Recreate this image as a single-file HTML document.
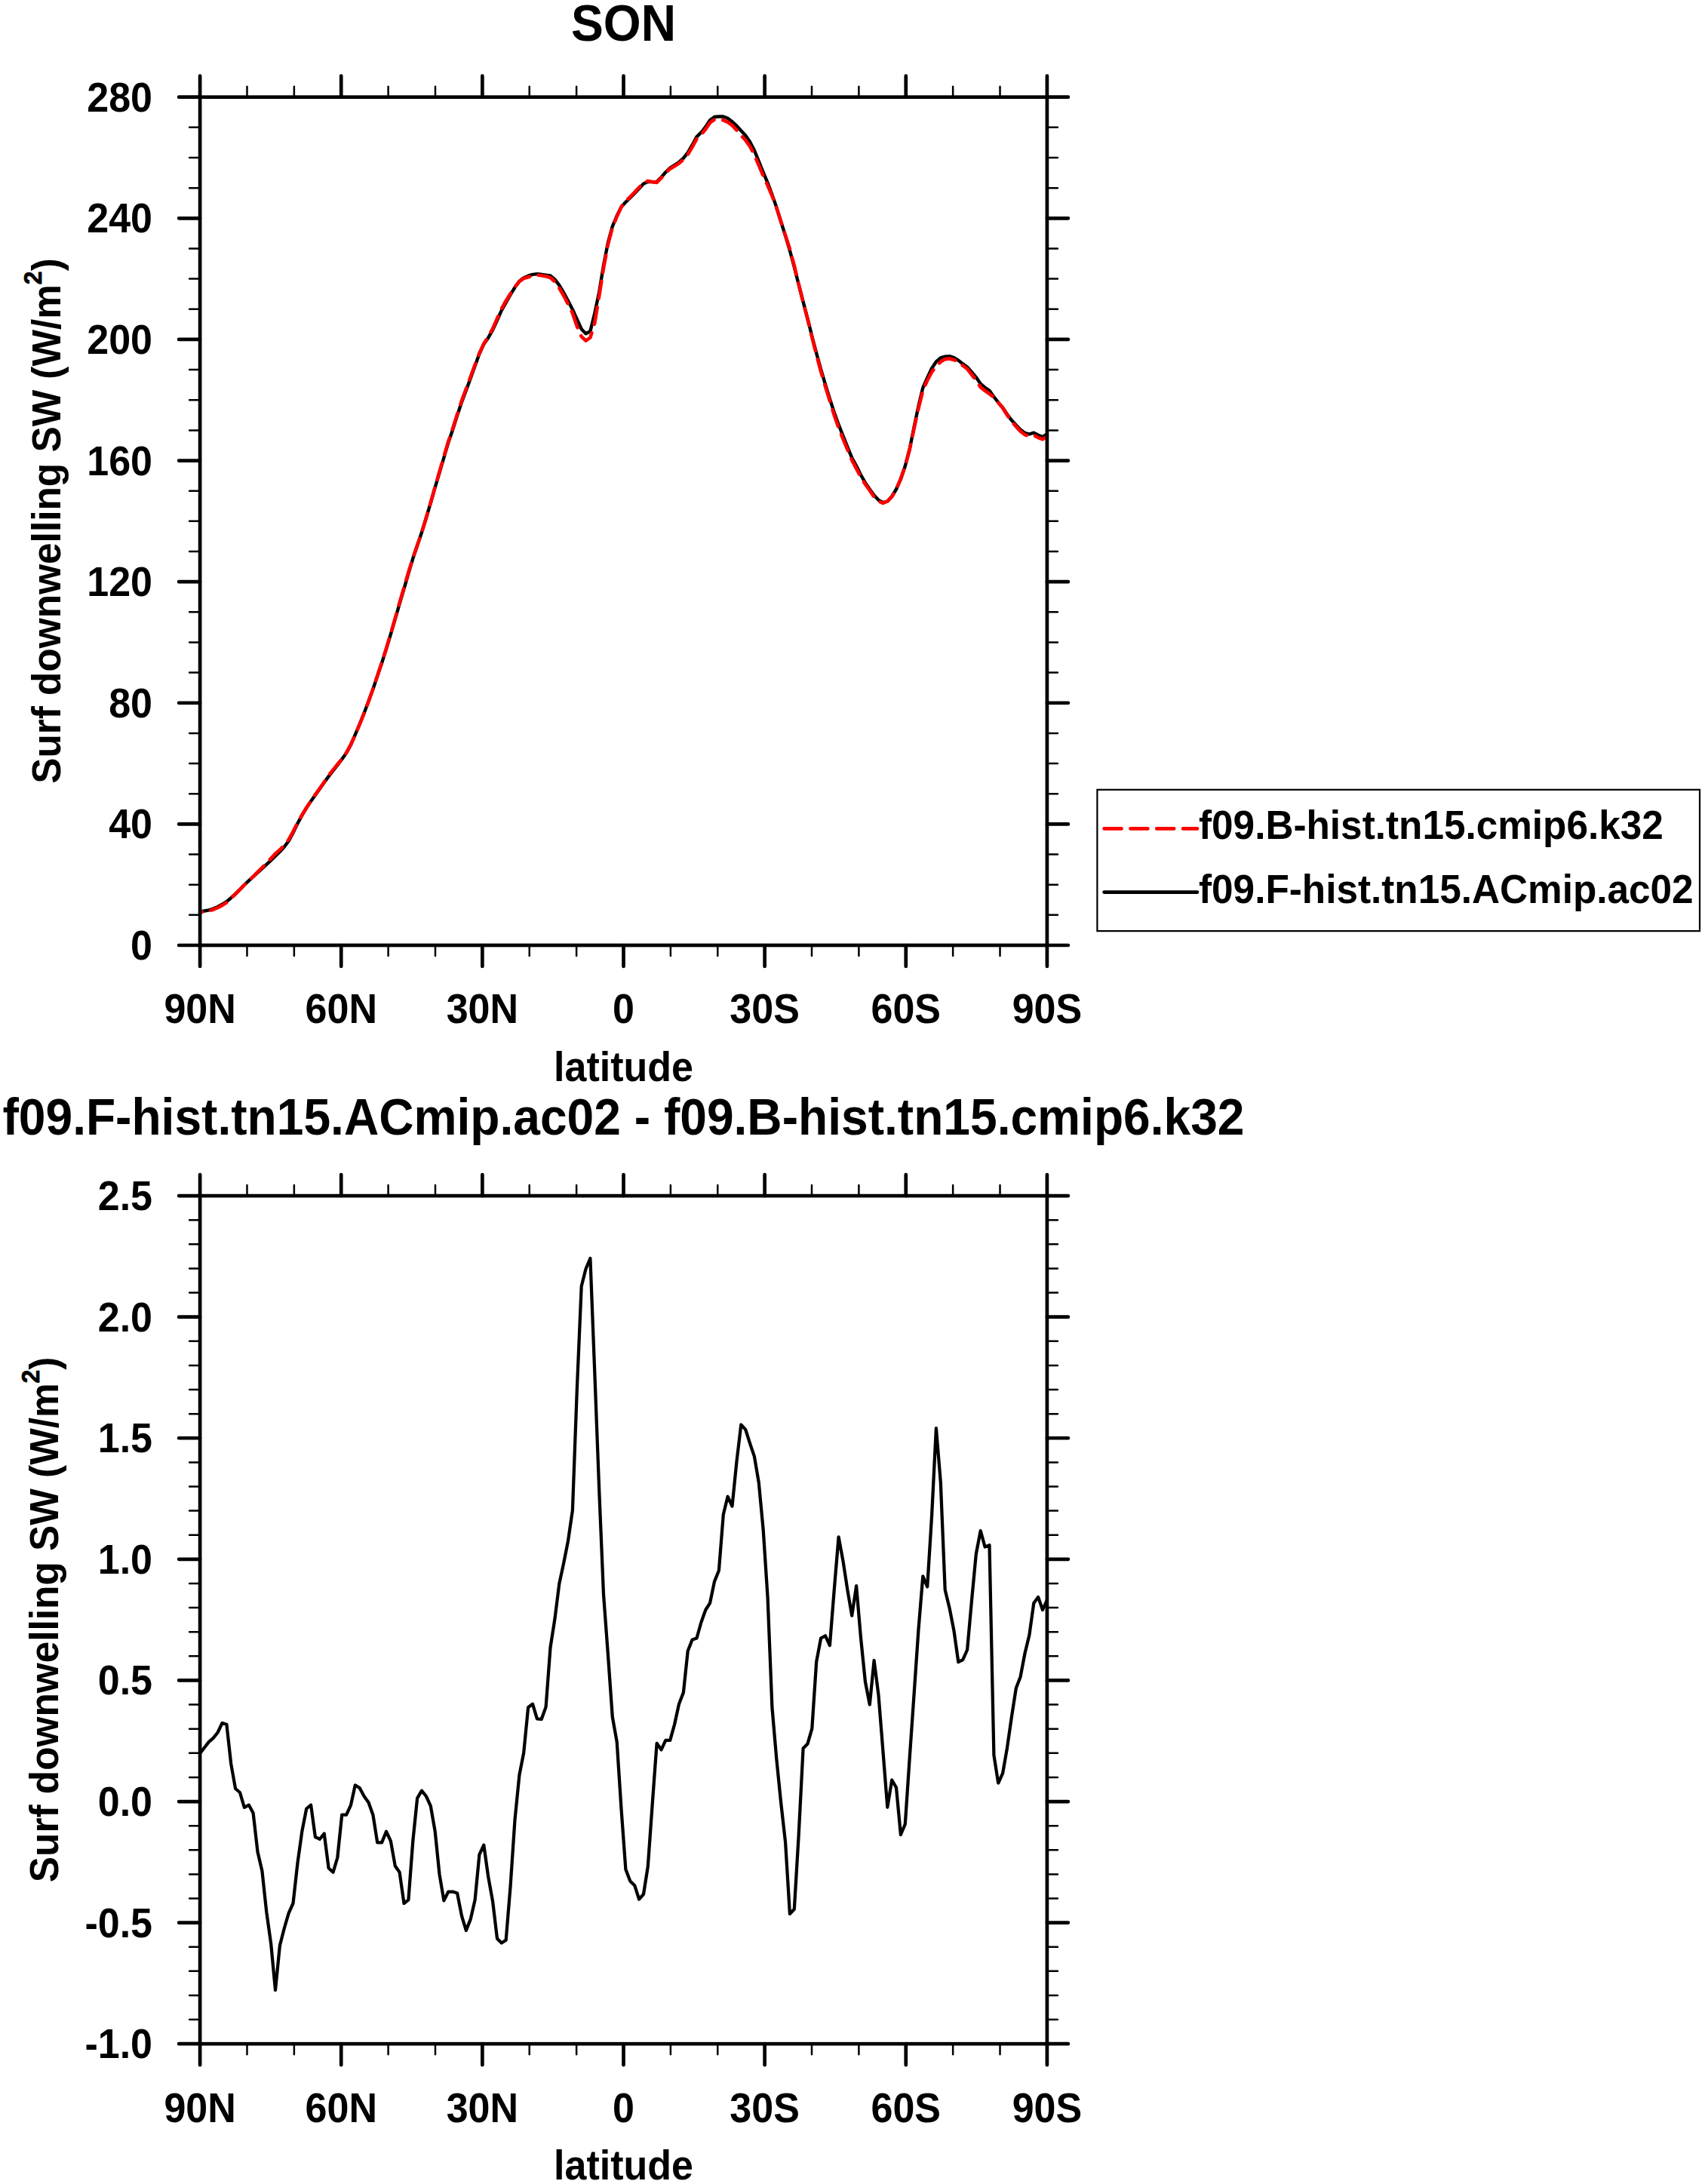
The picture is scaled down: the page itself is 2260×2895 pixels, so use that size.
<!DOCTYPE html>
<html><head><meta charset="utf-8"><title>SON</title>
<style>html,body{margin:0;padding:0;background:#fff;overflow:hidden;}svg{display:block;}
text{font-family:"Liberation Sans",Arial,Helvetica,sans-serif;font-weight:bold;fill:#000;}</style></head>
<body><svg width="2260" height="2895" viewBox="0 0 2260 2895">
<rect width="2260" height="2895" fill="#fff"/>
<path d="M265.1 1208.6 L271.0 1207.5 L276.9 1206.4 L282.7 1204.6 L288.6 1202.0 L294.5 1198.8 L300.4 1195.1 L306.2 1190.2 L312.1 1184.9 L318.0 1179.0 L323.9 1173.0 L329.8 1167.4 L335.6 1162.1 L341.5 1156.7 L347.4 1151.3 L353.3 1145.8 L359.2 1140.3 L365.0 1134.7 L370.9 1129.0 L376.8 1122.5 L382.7 1114.7 L388.5 1104.0 L394.4 1091.6 L400.3 1080.8 L406.2 1070.8 L412.1 1062.0 L417.9 1054.0 L423.8 1045.8 L429.7 1037.3 L435.6 1029.1 L441.5 1021.6 L447.3 1014.2 L453.2 1006.4 L459.1 998.0 L465.0 987.2 L470.8 973.8 L476.7 960.0 L482.6 945.3 L488.5 929.8 L494.4 913.4 L500.2 896.4 L506.1 878.8 L512.0 860.1 L517.9 840.6 L523.8 820.5 L529.6 800.3 L535.5 780.3 L541.4 760.2 L547.3 740.4 L553.1 723.0 L559.0 705.7 L564.9 686.5 L570.8 666.6 L576.7 646.0 L582.5 626.6 L588.4 606.5 L594.3 586.6 L600.2 569.2 L606.1 550.6 L611.9 533.2 L617.8 517.5 L623.7 501.5 L629.6 485.1 L635.4 469.1 L641.3 456.2 L647.2 447.7 L653.1 437.3 L659.0 424.5 L664.8 411.4 L670.7 401.0 L676.6 390.6 L682.5 380.8 L688.4 372.7 L694.2 368.2 L700.1 365.7 L706.0 363.9 L711.9 363.1 L717.7 363.8 L723.6 364.7 L729.5 365.5 L735.4 370.4 L741.3 378.2 L747.1 387.9 L753.0 398.8 L758.9 410.2 L764.8 423.2 L770.7 436.2 L776.5 442.2 L782.4 439.1 L788.3 415.3 L794.2 387.1 L800.0 351.8 L805.9 321.6 L811.8 300.2 L817.7 286.0 L823.6 274.2 L829.4 267.8 L835.3 262.2 L841.2 256.3 L847.1 250.1 L853.0 243.6 L858.8 241.1 L864.7 241.1 L870.6 240.9 L876.5 235.0 L882.3 228.3 L888.2 222.7 L894.1 218.9 L900.0 215.0 L905.9 209.7 L911.7 202.3 L917.6 192.2 L923.5 181.4 L929.4 175.5 L935.3 168.1 L941.1 159.3 L947.0 155.0 L952.9 154.5 L958.8 154.5 L964.6 156.8 L970.5 161.3 L976.4 166.7 L982.3 173.3 L988.2 179.6 L994.0 188.0 L999.9 199.3 L1005.8 213.9 L1011.7 228.6 L1017.6 242.5 L1023.4 257.9 L1029.3 274.9 L1035.2 294.0 L1041.1 312.7 L1046.9 332.0 L1052.8 353.9 L1058.7 377.3 L1064.6 400.1 L1070.5 422.2 L1076.3 445.8 L1082.2 468.3 L1088.1 489.5 L1094.0 509.7 L1099.9 528.7 L1105.7 546.7 L1111.6 562.9 L1117.5 577.9 L1123.4 592.6 L1129.2 606.8 L1135.1 617.5 L1141.0 629.5 L1146.9 639.9 L1152.8 648.4 L1158.6 656.5 L1164.5 662.8 L1170.4 666.1 L1176.3 664.5 L1182.2 658.0 L1188.0 648.5 L1193.9 635.2 L1199.8 617.7 L1205.7 595.4 L1211.5 566.7 L1217.4 538.6 L1223.3 514.1 L1229.2 500.6 L1235.1 488.2 L1240.9 479.5 L1246.8 474.3 L1252.7 472.6 L1258.6 472.2 L1264.5 474.1 L1270.3 477.7 L1276.2 482.2 L1282.1 486.5 L1288.0 493.1 L1293.8 500.1 L1299.7 508.7 L1305.6 513.7 L1311.5 517.8 L1317.4 526.0 L1323.2 533.3 L1329.1 540.3 L1335.0 549.3 L1340.9 557.1 L1346.8 563.5 L1352.6 569.5 L1358.5 573.9 L1364.4 575.5 L1370.3 573.6 L1376.1 576.7 L1382.0 579.1 L1387.9 575.5" fill="none" stroke="#000" stroke-width="4.4" stroke-linejoin="round" stroke-linecap="round"/>
<path d="M265.1 1209.4 L271.0 1208.4 L276.9 1207.4 L282.7 1205.7 L288.6 1203.2 L294.5 1200.1 L300.4 1196.4 L306.2 1190.8 L312.1 1185.1 L318.0 1179.1 L323.9 1172.9 L329.8 1167.4 L335.6 1161.9 L341.5 1155.8 L347.4 1150.1 L353.3 1144.0 L359.2 1137.9 L365.0 1131.6 L370.9 1126.6 L376.8 1120.4 L382.7 1112.9 L388.5 1102.3 L394.4 1090.6 L400.3 1080.3 L406.2 1070.7 L412.1 1061.9 L417.9 1053.4 L423.8 1045.1 L429.7 1036.7 L435.6 1028.0 L441.5 1020.4 L447.3 1013.3 L453.2 1006.2 L459.1 997.8 L465.0 987.2 L470.8 974.1 L476.7 960.2 L482.6 945.4 L488.5 929.8 L494.4 913.1 L500.2 895.7 L506.1 878.1 L512.0 859.6 L517.9 839.9 L523.8 819.5 L529.6 799.1 L535.5 778.7 L541.4 758.6 L547.3 739.7 L553.1 723.1 L559.0 705.9 L564.9 686.6 L570.8 666.5 L576.7 645.5 L582.5 625.4 L588.4 604.9 L594.3 585.1 L600.2 567.7 L606.1 549.0 L611.9 531.3 L617.8 515.3 L623.7 499.5 L629.6 483.5 L635.4 468.2 L641.3 455.5 L647.2 446.4 L653.1 435.7 L659.0 422.2 L664.8 409.1 L670.7 398.7 L676.6 389.2 L682.5 380.5 L688.4 373.1 L694.2 369.0 L700.1 367.3 L706.0 365.5 L711.9 364.5 L717.7 365.2 L723.6 366.3 L729.5 368.0 L735.4 373.4 L741.3 381.8 L747.1 391.8 L753.0 403.2 L758.9 415.0 L764.8 432.5 L770.7 446.1 L776.5 451.7 L782.4 447.5 L788.3 428.0 L794.2 392.3 L800.0 355.3 L805.9 324.0 L811.8 301.7 L817.7 287.0 L823.6 274.1 L829.4 266.6 L835.3 260.9 L841.2 254.9 L847.1 248.5 L853.0 242.0 L858.8 240.0 L864.7 241.1 L870.6 241.9 L876.5 235.9 L882.3 229.3 L888.2 223.7 L894.1 220.2 L900.0 216.6 L905.9 211.5 L911.7 204.8 L917.6 194.9 L923.5 184.1 L929.4 178.5 L935.3 171.3 L941.1 162.6 L947.0 158.6 L952.9 158.3 L958.8 159.3 L964.6 161.8 L970.5 166.2 L976.4 172.4 L982.3 179.5 L988.2 185.8 L994.0 194.0 L999.9 205.0 L1005.8 219.2 L1011.7 233.1 L1017.6 245.9 L1023.4 259.5 L1029.3 275.6 L1035.2 294.0 L1041.1 312.1 L1046.9 330.1 L1052.8 352.1 L1058.7 376.7 L1064.6 401.0 L1070.5 423.1 L1076.3 447.0 L1082.2 470.6 L1088.1 492.3 L1094.0 512.4 L1099.9 531.3 L1105.7 550.2 L1111.6 567.2 L1117.5 581.9 L1123.4 596.1 L1129.2 609.9 L1135.1 621.1 L1141.0 632.2 L1146.9 641.9 L1152.8 650.0 L1158.6 658.8 L1164.5 664.5 L1170.4 666.9 L1176.3 664.4 L1182.2 658.4 L1188.0 648.7 L1193.9 634.7 L1199.8 617.4 L1205.7 596.1 L1211.5 568.5 L1217.4 541.4 L1223.3 517.9 L1229.2 504.2 L1235.1 493.0 L1240.9 485.7 L1246.8 479.6 L1252.7 476.1 L1258.6 475.4 L1264.5 476.9 L1270.3 480.0 L1276.2 484.5 L1282.1 489.0 L1288.0 496.5 L1293.8 504.2 L1299.7 513.2 L1305.6 517.9 L1311.5 522.0 L1317.4 526.8 L1323.2 533.6 L1329.1 540.7 L1335.0 550.2 L1340.9 558.5 L1346.8 565.4 L1352.6 571.6 L1358.5 576.3 L1364.4 578.3 L1370.3 576.9 L1376.1 580.1 L1382.0 582.3 L1387.9 578.8" fill="none" stroke="#f00" stroke-width="4.6" stroke-linejoin="round" stroke-linecap="round" stroke-dasharray="23 11.8" stroke-dashoffset="20.2"/>
<path d="M265.1 2324.2 L271.0 2316.5 L276.9 2308.9 L282.7 2303.8 L288.6 2296.5 L294.5 2284.0 L300.4 2285.8 L306.2 2338.0 L312.1 2371.0 L318.0 2376.0 L323.9 2395.8 L329.8 2392.6 L335.6 2403.2 L341.5 2454.7 L347.4 2480.0 L353.3 2534.7 L359.2 2576.8 L365.0 2638.0 L370.9 2579.0 L376.8 2556.0 L382.7 2535.8 L388.5 2523.0 L394.4 2470.0 L400.3 2427.7 L406.2 2397.5 L412.1 2392.5 L417.9 2435.0 L423.8 2437.8 L429.7 2430.5 L435.6 2476.3 L441.5 2481.8 L447.3 2462.5 L453.2 2405.7 L459.1 2405.7 L465.0 2392.9 L470.8 2366.3 L476.7 2370.0 L482.6 2381.0 L488.5 2389.2 L494.4 2405.7 L500.2 2442.4 L506.1 2442.4 L512.0 2427.7 L517.9 2440.5 L523.8 2473.5 L529.6 2481.8 L535.5 2523.0 L541.4 2518.4 L547.3 2440.5 L553.1 2383.7 L559.0 2373.7 L564.9 2381.0 L570.8 2393.8 L576.7 2427.7 L582.5 2484.5 L588.4 2519.3 L594.3 2507.5 L600.2 2507.5 L606.1 2509.6 L611.9 2539.2 L617.8 2558.9 L623.7 2544.1 L629.6 2518.5 L635.4 2458.4 L641.3 2445.6 L647.2 2487.9 L653.1 2520.4 L659.0 2569.7 L664.8 2575.6 L670.7 2571.7 L676.6 2499.8 L682.5 2412.1 L688.4 2353.0 L694.2 2323.4 L700.1 2263.3 L706.0 2258.7 L711.9 2278.3 L717.7 2279.0 L723.6 2262.6 L729.5 2183.8 L735.4 2146.2 L741.3 2099.3 L747.1 2072.4 L753.0 2042.5 L758.9 2002.0 L764.8 1842.0 L770.7 1705.0 L776.5 1682.0 L782.4 1668.0 L788.3 1820.0 L794.2 1975.0 L800.0 2113.5 L805.9 2193.0 L811.8 2276.0 L817.7 2308.8 L823.6 2399.2 L829.4 2478.1 L835.3 2493.5 L841.2 2499.2 L847.1 2517.5 L853.0 2510.8 L858.8 2474.2 L864.7 2391.5 L870.6 2310.8 L876.5 2319.4 L882.3 2306.9 L888.2 2306.9 L894.1 2285.8 L900.0 2258.8 L905.9 2243.5 L911.7 2188.5 L917.6 2173.4 L923.5 2171.5 L929.4 2150.5 L935.3 2134.0 L941.1 2124.8 L947.0 2096.4 L952.9 2081.8 L958.8 2007.6 L964.6 1983.7 L970.5 1996.6 L976.4 1937.9 L982.3 1888.5 L988.2 1894.9 L994.0 1913.2 L999.9 1930.6 L1005.8 1965.4 L1011.7 2028.0 L1017.6 2118.0 L1023.4 2263.0 L1029.3 2331.5 L1035.2 2390.0 L1041.1 2442.3 L1046.9 2536.9 L1052.8 2530.8 L1058.7 2432.2 L1064.6 2317.4 L1070.5 2311.4 L1076.3 2291.3 L1082.2 2202.7 L1088.1 2171.5 L1094.0 2168.3 L1099.9 2181.0 L1105.7 2108.0 L1111.6 2037.3 L1117.5 2069.3 L1123.4 2107.8 L1129.2 2141.7 L1135.1 2102.2 L1141.0 2171.0 L1146.9 2229.0 L1152.8 2259.5 L1158.6 2201.0 L1164.5 2247.0 L1170.4 2321.0 L1176.3 2395.6 L1182.2 2359.5 L1188.0 2369.5 L1193.9 2432.0 L1199.8 2418.0 L1205.7 2330.5 L1211.5 2247.0 L1217.4 2161.0 L1223.3 2089.4 L1229.2 2103.4 L1235.1 2008.9 L1240.9 1893.1 L1246.8 1964.6 L1252.7 2107.5 L1258.6 2131.7 L1264.5 2161.9 L1270.3 2203.1 L1276.2 2200.1 L1282.1 2187.0 L1288.0 2121.6 L1293.8 2060.0 L1299.7 2029.1 L1305.6 2050.5 L1311.5 2048.3 L1317.4 2326.5 L1323.2 2363.5 L1329.1 2350.7 L1335.0 2316.8 L1340.9 2275.9 L1346.8 2237.8 L1352.6 2222.7 L1358.5 2191.5 L1364.4 2167.3 L1370.3 2124.9 L1376.1 2116.9 L1382.0 2134.0 L1387.9 2120.9" fill="none" stroke="#000" stroke-width="4.25" stroke-linejoin="round" stroke-linecap="round"/>
<rect x="265.1" y="128.7" width="1122.8" height="1124.3" fill="none" stroke="#000" stroke-width="4.7" stroke-linejoin="miter"/>
<path d="M265.1 128.7L265.1 100.7M265.1 1253L265.1 1281M452.23 128.7L452.23 100.7M452.23 1253L452.23 1281M639.37 128.7L639.37 100.7M639.37 1253L639.37 1281M826.5 128.7L826.5 100.7M826.5 1253L826.5 1281M1013.63 128.7L1013.63 100.7M1013.63 1253L1013.63 1281M1200.77 128.7L1200.77 100.7M1200.77 1253L1200.77 1281M1387.9 128.7L1387.9 100.7M1387.9 1253L1387.9 1281M265.1 1253L237.1 1253M1387.9 1253L1415.9 1253M265.1 1092.39L237.1 1092.39M1387.9 1092.39L1415.9 1092.39M265.1 931.77L237.1 931.77M1387.9 931.77L1415.9 931.77M265.1 771.16L237.1 771.16M1387.9 771.16L1415.9 771.16M265.1 610.54L237.1 610.54M1387.9 610.54L1415.9 610.54M265.1 449.93L237.1 449.93M1387.9 449.93L1415.9 449.93M265.1 289.31L237.1 289.31M1387.9 289.31L1415.9 289.31M265.1 128.7L237.1 128.7M1387.9 128.7L1415.9 128.7" stroke="#000" stroke-width="4.7" stroke-linecap="round" fill="none"/>
<path d="M327.48 128.7L327.48 114.7M327.48 1253L327.48 1267M389.86 128.7L389.86 114.7M389.86 1253L389.86 1267M514.61 128.7L514.61 114.7M514.61 1253L514.61 1267M576.99 128.7L576.99 114.7M576.99 1253L576.99 1267M701.74 128.7L701.74 114.7M701.74 1253L701.74 1267M764.12 128.7L764.12 114.7M764.12 1253L764.12 1267M888.88 128.7L888.88 114.7M888.88 1253L888.88 1267M951.26 128.7L951.26 114.7M951.26 1253L951.26 1267M1076.01 128.7L1076.01 114.7M1076.01 1253L1076.01 1267M1138.39 128.7L1138.39 114.7M1138.39 1253L1138.39 1267M1263.14 128.7L1263.14 114.7M1263.14 1253L1263.14 1267M1325.52 128.7L1325.52 114.7M1325.52 1253L1325.52 1267M265.1 1212.85L251.1 1212.85M1387.9 1212.85L1401.9 1212.85M265.1 1172.69L251.1 1172.69M1387.9 1172.69L1401.9 1172.69M265.1 1132.54L251.1 1132.54M1387.9 1132.54L1401.9 1132.54M265.1 1052.23L251.1 1052.23M1387.9 1052.23L1401.9 1052.23M265.1 1012.08L251.1 1012.08M1387.9 1012.08L1401.9 1012.08M265.1 971.92L251.1 971.92M1387.9 971.92L1401.9 971.92M265.1 891.62L251.1 891.62M1387.9 891.62L1401.9 891.62M265.1 851.46L251.1 851.46M1387.9 851.46L1401.9 851.46M265.1 811.31L251.1 811.31M1387.9 811.31L1401.9 811.31M265.1 731L251.1 731M1387.9 731L1401.9 731M265.1 690.85L251.1 690.85M1387.9 690.85L1401.9 690.85M265.1 650.7L251.1 650.7M1387.9 650.7L1401.9 650.7M265.1 570.39L251.1 570.39M1387.9 570.39L1401.9 570.39M265.1 530.24L251.1 530.24M1387.9 530.24L1401.9 530.24M265.1 490.08L251.1 490.08M1387.9 490.08L1401.9 490.08M265.1 409.78L251.1 409.78M1387.9 409.78L1401.9 409.78M265.1 369.62L251.1 369.62M1387.9 369.62L1401.9 369.62M265.1 329.47L251.1 329.47M1387.9 329.47L1401.9 329.47M265.1 249.16L251.1 249.16M1387.9 249.16L1401.9 249.16M265.1 209.01L251.1 209.01M1387.9 209.01L1401.9 209.01M265.1 168.85L251.1 168.85M1387.9 168.85L1401.9 168.85" stroke="#000" stroke-width="2.5" stroke-linecap="round" fill="none"/>
<text transform="translate(265.1,1356.2) scale(1,1.06)" text-anchor="middle" font-size="52.0">90N</text>
<text transform="translate(452.23,1356.2) scale(1,1.06)" text-anchor="middle" font-size="52.0">60N</text>
<text transform="translate(639.37,1356.2) scale(1,1.06)" text-anchor="middle" font-size="52.0">30N</text>
<text transform="translate(826.5,1356.2) scale(1,1.06)" text-anchor="middle" font-size="52.0">0</text>
<text transform="translate(1013.63,1356.2) scale(1,1.06)" text-anchor="middle" font-size="52.0">30S</text>
<text transform="translate(1200.77,1356.2) scale(1,1.06)" text-anchor="middle" font-size="52.0">60S</text>
<text transform="translate(1387.9,1356.2) scale(1,1.06)" text-anchor="middle" font-size="52.0">90S</text>
<text transform="translate(202,1272.02) scale(1,1.06)" text-anchor="end" font-size="52.0">0</text>
<text transform="translate(202,1111.4) scale(1,1.06)" text-anchor="end" font-size="52.0">40</text>
<text transform="translate(202,950.79) scale(1,1.06)" text-anchor="end" font-size="52.0">80</text>
<text transform="translate(202,790.17) scale(1,1.06)" text-anchor="end" font-size="52.0">120</text>
<text transform="translate(202,629.56) scale(1,1.06)" text-anchor="end" font-size="52.0">160</text>
<text transform="translate(202,468.94) scale(1,1.06)" text-anchor="end" font-size="52.0">200</text>
<text transform="translate(202,308.33) scale(1,1.06)" text-anchor="end" font-size="52.0">240</text>
<text transform="translate(202,147.72) scale(1,1.06)" text-anchor="end" font-size="52.0">280</text>
<text transform="translate(826.5,1432.6) scale(1,1.06)" text-anchor="middle" font-size="52.0">latitude</text>
<text transform="translate(80,1038.85) rotate(-90) scale(1,1.06)" text-anchor="start" font-size="51.35">Surf downwelling SW (W/m<tspan font-size="32" dy="-23.7" stroke="#000" stroke-width="0.7">2</tspan><tspan dy="23.7">)</tspan></text>
<rect x="265.1" y="1585.1" width="1122.8" height="1124.1" fill="none" stroke="#000" stroke-width="4.7" stroke-linejoin="miter"/>
<path d="M265.1 1585.1L265.1 1557.1M265.1 2709.2L265.1 2737.2M452.23 1585.1L452.23 1557.1M452.23 2709.2L452.23 2737.2M639.37 1585.1L639.37 1557.1M639.37 2709.2L639.37 2737.2M826.5 1585.1L826.5 1557.1M826.5 2709.2L826.5 2737.2M1013.63 1585.1L1013.63 1557.1M1013.63 2709.2L1013.63 2737.2M1200.77 1585.1L1200.77 1557.1M1200.77 2709.2L1200.77 2737.2M1387.9 1585.1L1387.9 1557.1M1387.9 2709.2L1387.9 2737.2M265.1 2709.2L237.1 2709.2M1387.9 2709.2L1415.9 2709.2M265.1 2548.61L237.1 2548.61M1387.9 2548.61L1415.9 2548.61M265.1 2388.03L237.1 2388.03M1387.9 2388.03L1415.9 2388.03M265.1 2227.44L237.1 2227.44M1387.9 2227.44L1415.9 2227.44M265.1 2066.86L237.1 2066.86M1387.9 2066.86L1415.9 2066.86M265.1 1906.27L237.1 1906.27M1387.9 1906.27L1415.9 1906.27M265.1 1745.69L237.1 1745.69M1387.9 1745.69L1415.9 1745.69M265.1 1585.1L237.1 1585.1M1387.9 1585.1L1415.9 1585.1" stroke="#000" stroke-width="4.7" stroke-linecap="round" fill="none"/>
<path d="M327.48 1585.1L327.48 1571.1M327.48 2709.2L327.48 2723.2M389.86 1585.1L389.86 1571.1M389.86 2709.2L389.86 2723.2M514.61 1585.1L514.61 1571.1M514.61 2709.2L514.61 2723.2M576.99 1585.1L576.99 1571.1M576.99 2709.2L576.99 2723.2M701.74 1585.1L701.74 1571.1M701.74 2709.2L701.74 2723.2M764.12 1585.1L764.12 1571.1M764.12 2709.2L764.12 2723.2M888.88 1585.1L888.88 1571.1M888.88 2709.2L888.88 2723.2M951.26 1585.1L951.26 1571.1M951.26 2709.2L951.26 2723.2M1076.01 1585.1L1076.01 1571.1M1076.01 2709.2L1076.01 2723.2M1138.39 1585.1L1138.39 1571.1M1138.39 2709.2L1138.39 2723.2M1263.14 1585.1L1263.14 1571.1M1263.14 2709.2L1263.14 2723.2M1325.52 1585.1L1325.52 1571.1M1325.52 2709.2L1325.52 2723.2M265.1 2677.08L251.1 2677.08M1387.9 2677.08L1401.9 2677.08M265.1 2644.97L251.1 2644.97M1387.9 2644.97L1401.9 2644.97M265.1 2612.85L251.1 2612.85M1387.9 2612.85L1401.9 2612.85M265.1 2580.73L251.1 2580.73M1387.9 2580.73L1401.9 2580.73M265.1 2516.5L251.1 2516.5M1387.9 2516.5L1401.9 2516.5M265.1 2484.38L251.1 2484.38M1387.9 2484.38L1401.9 2484.38M265.1 2452.26L251.1 2452.26M1387.9 2452.26L1401.9 2452.26M265.1 2420.15L251.1 2420.15M1387.9 2420.15L1401.9 2420.15M265.1 2355.91L251.1 2355.91M1387.9 2355.91L1401.9 2355.91M265.1 2323.79L251.1 2323.79M1387.9 2323.79L1401.9 2323.79M265.1 2291.68L251.1 2291.68M1387.9 2291.68L1401.9 2291.68M265.1 2259.56L251.1 2259.56M1387.9 2259.56L1401.9 2259.56M265.1 2195.33L251.1 2195.33M1387.9 2195.33L1401.9 2195.33M265.1 2163.21L251.1 2163.21M1387.9 2163.21L1401.9 2163.21M265.1 2131.09L251.1 2131.09M1387.9 2131.09L1401.9 2131.09M265.1 2098.97L251.1 2098.97M1387.9 2098.97L1401.9 2098.97M265.1 2034.74L251.1 2034.74M1387.9 2034.74L1401.9 2034.74M265.1 2002.62L251.1 2002.62M1387.9 2002.62L1401.9 2002.62M265.1 1970.51L251.1 1970.51M1387.9 1970.51L1401.9 1970.51M265.1 1938.39L251.1 1938.39M1387.9 1938.39L1401.9 1938.39M265.1 1874.15L251.1 1874.15M1387.9 1874.15L1401.9 1874.15M265.1 1842.04L251.1 1842.04M1387.9 1842.04L1401.9 1842.04M265.1 1809.92L251.1 1809.92M1387.9 1809.92L1401.9 1809.92M265.1 1777.8L251.1 1777.8M1387.9 1777.8L1401.9 1777.8M265.1 1713.57L251.1 1713.57M1387.9 1713.57L1401.9 1713.57M265.1 1681.45L251.1 1681.45M1387.9 1681.45L1401.9 1681.45M265.1 1649.33L251.1 1649.33M1387.9 1649.33L1401.9 1649.33M265.1 1617.22L251.1 1617.22M1387.9 1617.22L1401.9 1617.22" stroke="#000" stroke-width="2.5" stroke-linecap="round" fill="none"/>
<text transform="translate(265.1,2812.6) scale(1,1.06)" text-anchor="middle" font-size="52.0">90N</text>
<text transform="translate(452.23,2812.6) scale(1,1.06)" text-anchor="middle" font-size="52.0">60N</text>
<text transform="translate(639.37,2812.6) scale(1,1.06)" text-anchor="middle" font-size="52.0">30N</text>
<text transform="translate(826.5,2812.6) scale(1,1.06)" text-anchor="middle" font-size="52.0">0</text>
<text transform="translate(1013.63,2812.6) scale(1,1.06)" text-anchor="middle" font-size="52.0">30S</text>
<text transform="translate(1200.77,2812.6) scale(1,1.06)" text-anchor="middle" font-size="52.0">60S</text>
<text transform="translate(1387.9,2812.6) scale(1,1.06)" text-anchor="middle" font-size="52.0">90S</text>
<text transform="translate(202,2728.22) scale(1,1.06)" text-anchor="end" font-size="52.0">-1.0</text>
<text transform="translate(202,2567.63) scale(1,1.06)" text-anchor="end" font-size="52.0">-0.5</text>
<text transform="translate(202,2407.04) scale(1,1.06)" text-anchor="end" font-size="52.0">0.0</text>
<text transform="translate(202,2246.46) scale(1,1.06)" text-anchor="end" font-size="52.0">0.5</text>
<text transform="translate(202,2085.87) scale(1,1.06)" text-anchor="end" font-size="52.0">1.0</text>
<text transform="translate(202,1925.29) scale(1,1.06)" text-anchor="end" font-size="52.0">1.5</text>
<text transform="translate(202,1764.7) scale(1,1.06)" text-anchor="end" font-size="52.0">2.0</text>
<text transform="translate(202,1604.12) scale(1,1.06)" text-anchor="end" font-size="52.0">2.5</text>
<text transform="translate(826.5,2889) scale(1,1.06)" text-anchor="middle" font-size="52.0">latitude</text>
<text transform="translate(76.8,2495.15) rotate(-90) scale(1,1.06)" text-anchor="start" font-size="51.35">Surf downwelling SW (W/m<tspan font-size="32" dy="-23.7" stroke="#000" stroke-width="0.7">2</tspan><tspan dy="23.7">)</tspan></text>
<text transform="translate(826.5,53.5) scale(1,1.068)" text-anchor="middle" font-size="64.12">SON</text>
<text transform="translate(826.5,1503.7) scale(1,1.068)" text-anchor="middle" font-size="64.12">f09.F-hist.tn15.ACmip.ac02 - f09.B-hist.tn15.cmip6.k32</text>
<rect x="1454.4" y="1046.8" width="798.6" height="187.3" fill="none" stroke="#000" stroke-width="2.2"/>
<path d="M1463.6 1098.4H1587" stroke="#f00" stroke-width="4.6" stroke-linecap="round" stroke-dasharray="23 11.8" fill="none"/>
<path d="M1463.6 1182.6H1587" stroke="#000" stroke-width="4.6" stroke-linecap="round" fill="none"/>
<text transform="translate(1589,1111.7) scale(1,1.06)" text-anchor="start" font-size="51.3">f09.B-hist.tn15.cmip6.k32</text>
<text transform="translate(1589,1196.5) scale(1,1.06)" text-anchor="start" font-size="51.3">f09.F-hist.tn15.ACmip.ac02</text>
</svg></body></html>
